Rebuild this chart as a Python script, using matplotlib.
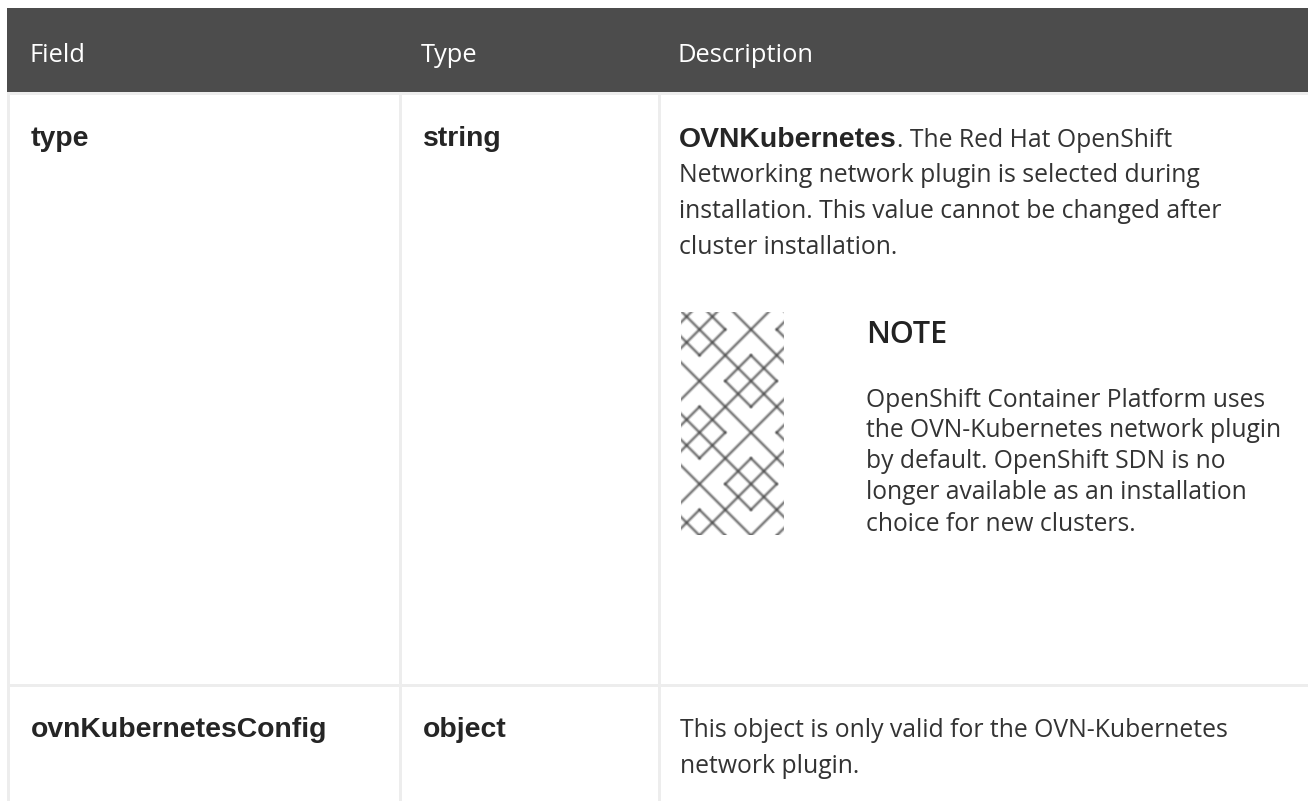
import matplotlib
matplotlib.use("Agg")
import matplotlib.pyplot as plt
from matplotlib.patches import Rectangle

W, H = 1308, 801
headers = ["Field", "Type", "Description"]
fields = ["type", "ovnKubernetesConfig"]
types = ["string", "object"]
desc1_bold = "OVNKubernetes"
desc1_lines = [". The Red Hat OpenShift", "Networking network plugin is selected during",
               "installation. This value cannot be changed after", "cluster installation."]
note_title = "NOTE"
note_lines = ["OpenShift Container Platform uses", "the OVN-Kubernetes network plugin",
              "by default. OpenShift SDN is no", "longer available as an installation",
              "choice for new clusters."]
desc2_lines = ["This object is only valid for the OVN-Kubernetes", "network plugin."]

BODY = "Open Sans"
BOLD = "Liberation Sans"
fig = plt.figure(figsize=(W / 100, H / 100), dpi=100)
ax = fig.add_axes([0, 0, 1, 1])
ax.set_xlim(0, W)
ax.set_ylim(H, 0)
ax.axis("off")

ax.add_patch(Rectangle((7, 8), W - 7, 84, fc="#4c4c4c", ec="none"))
line = "#ededed"
for x in (8, 400, 659):
    ax.add_patch(Rectangle((x - 1.5, 92), 3, H - 92, fc=line, ec="none"))
for y in (93.5, 685):
    ax.add_patch(Rectangle((7, y - 1.5), W - 7, 3, fc=line, ec="none"))

for x, t in zip((30, 421, 678), headers):
    ax.text(x, 62, t, color="white", family=BODY, fontsize=18.4, va="baseline")
txt = "#252525"
for y, f, t in zip((146, 737), fields, types):
    ax.text(31, y, f, color=txt, family=BOLD, weight="bold", fontsize=20.4, va="baseline")
    ax.text(423, y, t, color=txt, family=BOLD, weight="bold", fontsize=20.4, va="baseline")

body = "#333333"
b = ax.text(679, 147, desc1_bold, color=txt, family=BOLD, weight="bold", fontsize=20.4, va="baseline")
fig.canvas.draw()
bb = b.get_window_extent()
ax.text(bb.x1, 147, desc1_lines[0], color=body, family=BODY, fontsize=17.8, va="baseline")
for y, t in zip((182, 218, 254), desc1_lines[1:]):
    ax.text(679, y, t, color=body, family=BODY, fontsize=17.8, va="baseline")
ax.text(866, 343, note_title, color="#222222", family=BODY, fontsize=22, weight="semibold", va="baseline")
for y, t in zip((407, 437, 468, 499, 531), note_lines):
    ax.text(866, y, t, color=body, family=BODY, fontsize=17.7, va="baseline")
for y, t in zip((737, 773), desc2_lines):
    ax.text(680, y, t, color=body, family=BODY, fontsize=17.8, va="baseline")

# decorative note icon: lattice of diagonal lines plus a small diamond per cluster
u = 12.875
cx, cy = 751.0, 381.0
clip = Rectangle((681, 312), 103, 223, transform=ax.transData)
gray = "#404040"
def seg(x0, y0, x1, y1):
    for lw, a in ((4.5, 0.14), (3.0, 0.25), (1.6, 0.45)):
        l, = ax.plot([x0, x1], [y0, y1], color=gray, lw=lw * 0.72, alpha=a, solid_capstyle="round")
        l.set_clip_path(clip)
for k in range(-8, 9):
    s = 4 * u * k
    seg(cx - 300, cy - 300 + s, cx + 300, cy + 300 + s)
    seg(cx - 300, cy + 300 + s, cx + 300, cy - 300 + s)
for i in range(-4, 5):
    for j in range(-6, 7):
        if (i + j) % 2 == 0:
            ccx, ccy = cx + 4 * u * i, cy + 4 * u * j
            pts = [(0, -2), (2, 0), (0, 2), (-2, 0), (0, -2)]
            for p, q in zip(pts[:-1], pts[1:]):
                seg(ccx + p[0] * u, ccy + p[1] * u, ccx + q[0] * u, ccy + q[1] * u)
fig.savefig("out.png", dpi=100)
